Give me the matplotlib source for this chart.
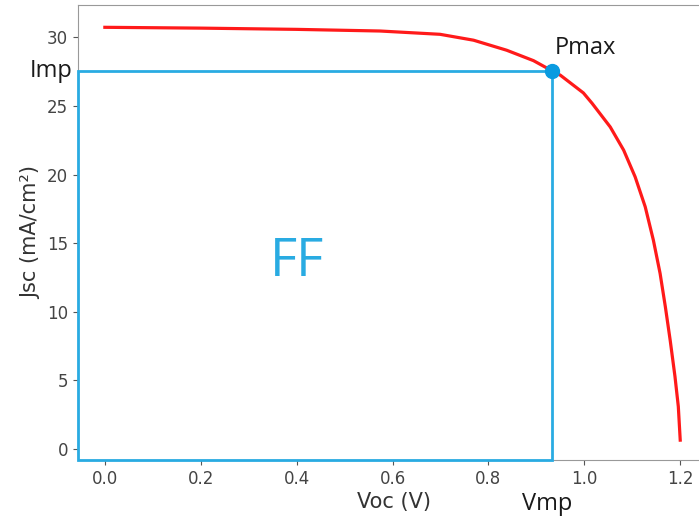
import matplotlib
matplotlib.use("Agg")
import matplotlib.pyplot as plt
from matplotlib.patches import Rectangle

# J-V curve
voltage = [0.0, 0.2, 0.4, 0.574, 0.699, 0.769, 0.838, 0.894, 0.933, 0.950,
           0.998, 1.016, 1.054, 1.082, 1.106, 1.127, 1.144, 1.158, 1.169,
           1.179, 1.189, 1.196, 1.2]
current = [30.73, 30.67, 30.58, 30.46, 30.22, 29.79, 29.06, 28.3, 27.55, 27.24,
           25.95, 25.2, 23.47, 21.78, 19.83, 17.65, 15.22, 12.8, 10.36,
           7.94, 5.3, 3.1, 0.65]

vmp = 0.933
imp = 27.55

blue = "#29abe2"
note_font = ["Open Sans", "DejaVu Sans"]

fig = plt.figure(figsize=(6.99, 5.21), dpi=100)
ax = fig.add_axes([0.1116, 0.117, 0.9027, 0.873])

ax.plot(voltage, current, color="#ff1a1a", lw=2.3, zorder=3,
        solid_joinstyle="round")

x0, x1 = -0.056, 1.26
y0, y1 = -0.8, 32.34
ax.set_xlim(x0, x1)
ax.set_ylim(y0, y1)

ax.add_patch(Rectangle((x0, y0), vmp - x0, imp - y0, fill=False,
                       edgecolor=blue, lw=2, zorder=4, clip_on=False))
ax.plot([vmp], [imp], "o", color="#0a9be0", ms=10, zorder=5, clip_on=False)

ax.set_xticks([0.0, 0.2, 0.4, 0.6, 0.8, 1.0, 1.2])
ax.set_yticks([0, 5, 10, 15, 20, 25, 30])
ax.tick_params(labelsize=12, colors="#555555", labelcolor="#444444")
for s in ax.spines.values():
    s.set_color("#999999")

ax.set_xlabel("Voc (V)", fontsize=15, color="#333333", labelpad=3)
ax.set_ylabel("Jsc (mA/cm²)", fontsize=15, color="#333333", labelpad=4)

ax.text(vmp + 0.005, 29.2, "Pmax", fontsize=17, family=note_font,
        color="#1a1a1a", ha="left", va="center")
ax.text(x0 - 0.012, imp, "Imp", fontsize=17, family=note_font,
        color="#1a1a1a", ha="right", va="center", clip_on=False)
ax.text(vmp - 0.01, -4.0, "Vmp", fontsize=17, family=note_font,
        color="#1a1a1a", ha="center", va="center", clip_on=False)
ax.text(0.40, 13.6, "FF", fontsize=38, family=note_font,
        color=blue, ha="center", va="center")

fig.savefig("out.png", dpi=100)
